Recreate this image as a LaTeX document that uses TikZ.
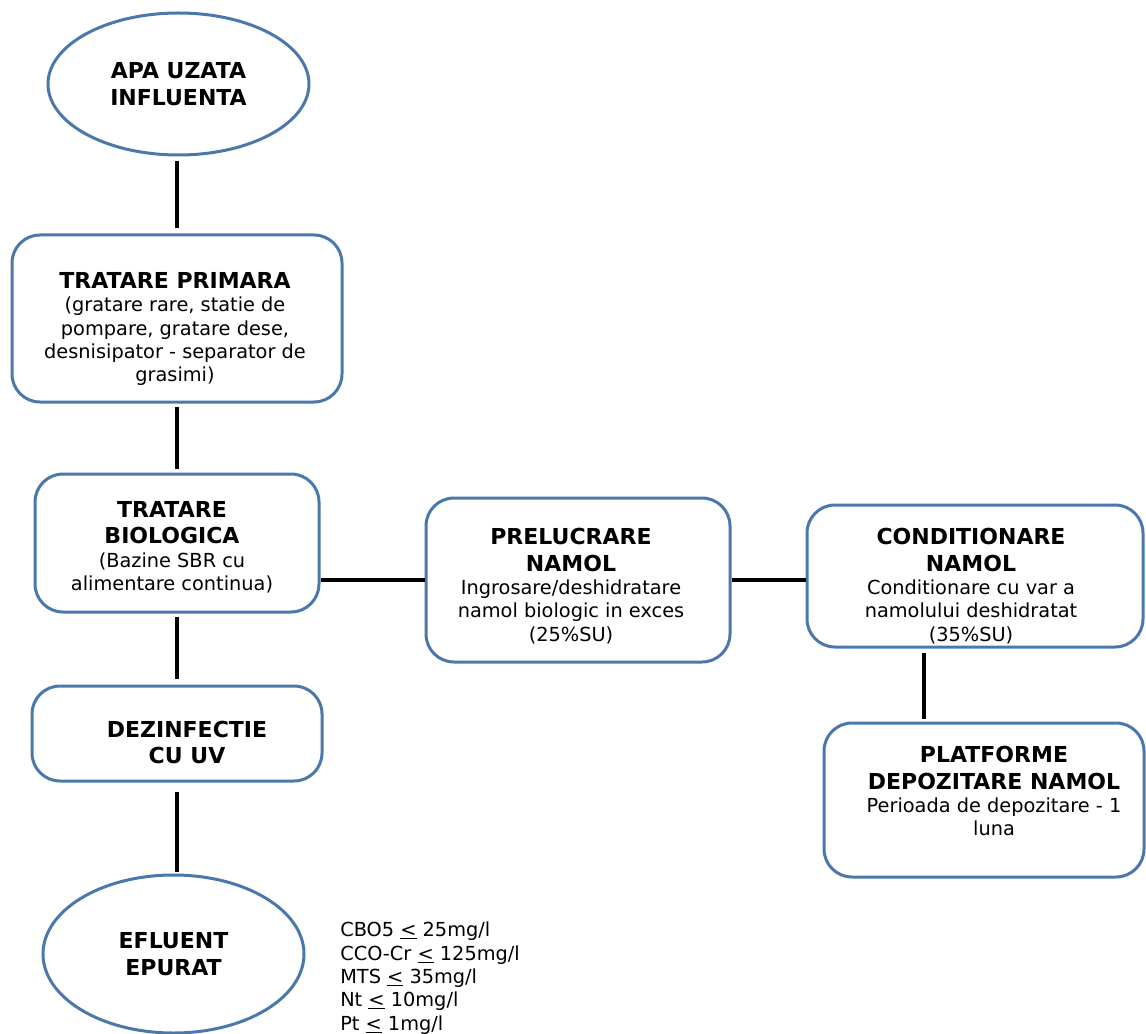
\documentclass[tikz,border=0pt]{standalone}
\usepackage{fontspec}
\setmainfont{DejaVu Sans}
\usetikzlibrary{shapes.geometric,positioning}
\definecolor{boxblue}{RGB}{74,120,170}

\newcommand{\steptitle}[1]{{\fontsize{16.5}{20}\selectfont\bfseries #1}}

\begin{document}
\begin{tikzpicture}[
    x=0.75pt, y=-0.75pt,
    box/.style={draw=boxblue, line width=2.25pt, rounded corners=21pt, fill=white},
    oval/.style={ellipse, draw=boxblue, line width=2.25pt, inner sep=0pt, align=center,
        font=\fontsize{16.5}{20}\selectfont\bfseries},
    txt/.style={align=center, inner sep=0pt, font=\fontsize{14.5}{17.5}\selectfont},
    link/.style={line width=2.3pt}
]
\useasboundingbox (0,0) rectangle (1146,1034);

% left column: water line
\node[oval, minimum width=195.75pt, minimum height=106.5pt] (apa) at (178.5,84) {APA UZATA\\INFLUENTA};
\node[box, minimum width=247.5pt, minimum height=125.25pt] (prim) at (177,318.5) {};
\node[box, minimum width=213pt, minimum height=103.5pt] (bio) at (177,543) {};
\node[box, minimum width=217.5pt, minimum height=71.25pt] (dez) at (177,733.5) {};
\node[oval, minimum width=195.75pt, minimum height=118.5pt] (eff) at (173.5,954) {EFLUENT\\EPURAT};

% right part: sludge line
\node[box, minimum width=228pt, minimum height=123pt] (prel) at (578,580) {};
\node[box, minimum width=252pt, minimum height=106.5pt] (cond) at (975,576) {};
\node[box, minimum width=240pt, minimum height=115.5pt] (plat) at (984,800) {};

% texts
\node[txt] (prim-t) at (175,329) {\steptitle{TRATARE PRIMARA}\\(gratare rare, statie de\\pompare, gratare dese,\\desnisipator - separator de\\grasimi)};
\node[txt] (bio-t) at (172,547) {\steptitle{TRATARE}\\[2.5pt]\steptitle{BIOLOGICA}\\(Bazine SBR cu\\alimentare continua)};
\node[txt] (dez-t) at (187,742.5) {\steptitle{DEZINFECTIE}\\[2.5pt]\steptitle{CU UV}};
\node[txt] (prel-t) at (571,586) {\steptitle{PRELUCRARE}\\[2.5pt]\steptitle{NAMOL}\\Ingrosare/deshidratare\\namol biologic in exces\\(25\%SU)};
\node[txt] (cond-t) at (971,586) {\steptitle{CONDITIONARE}\\[2.5pt]\steptitle{NAMOL}\\Conditionare cu var a\\namolului deshidratat\\(35\%SU)};
\node[txt] (plat-t) at (994,791) {\steptitle{PLATFORME}\\[2.5pt]\steptitle{DEPOZITARE NAMOL}\\Perioada de depozitare - 1\\luna};
\node[txt, align=left, anchor=west] (lim) at (340,978) {CBO5 \underline{<} 25mg/l\\CCO-Cr \underline{<} 125mg/l\\MTS \underline{<} 35mg/l\\Nt \underline{<} 10mg/l\\Pt \underline{<} 1mg/l};

% connectors
\draw[link, shorten <=3.75pt, shorten >=3.75pt] (prim.north |- apa.south) -- (prim.north);
\draw[link, shorten <=2.25pt, shorten >=3pt] (prim) -- (bio);
\draw[link, shorten <=2.25pt, shorten >=4.5pt] (bio) -- (dez);
\draw[link, shorten <=6.75pt, shorten >=1.5pt] (dez.south) -- (dez.south |- eff.north);
\draw[link] (prel.west) -- (prel.west -| bio.east);
\draw[link] (prel.east) -- (prel.east -| cond.west);
\draw[link, shorten <=3pt, shorten >=2.25pt] ([xshift=-38.25pt]cond.south) -- ([xshift=-38.25pt]cond.south |- plat.north);
\end{tikzpicture}
\end{document}
